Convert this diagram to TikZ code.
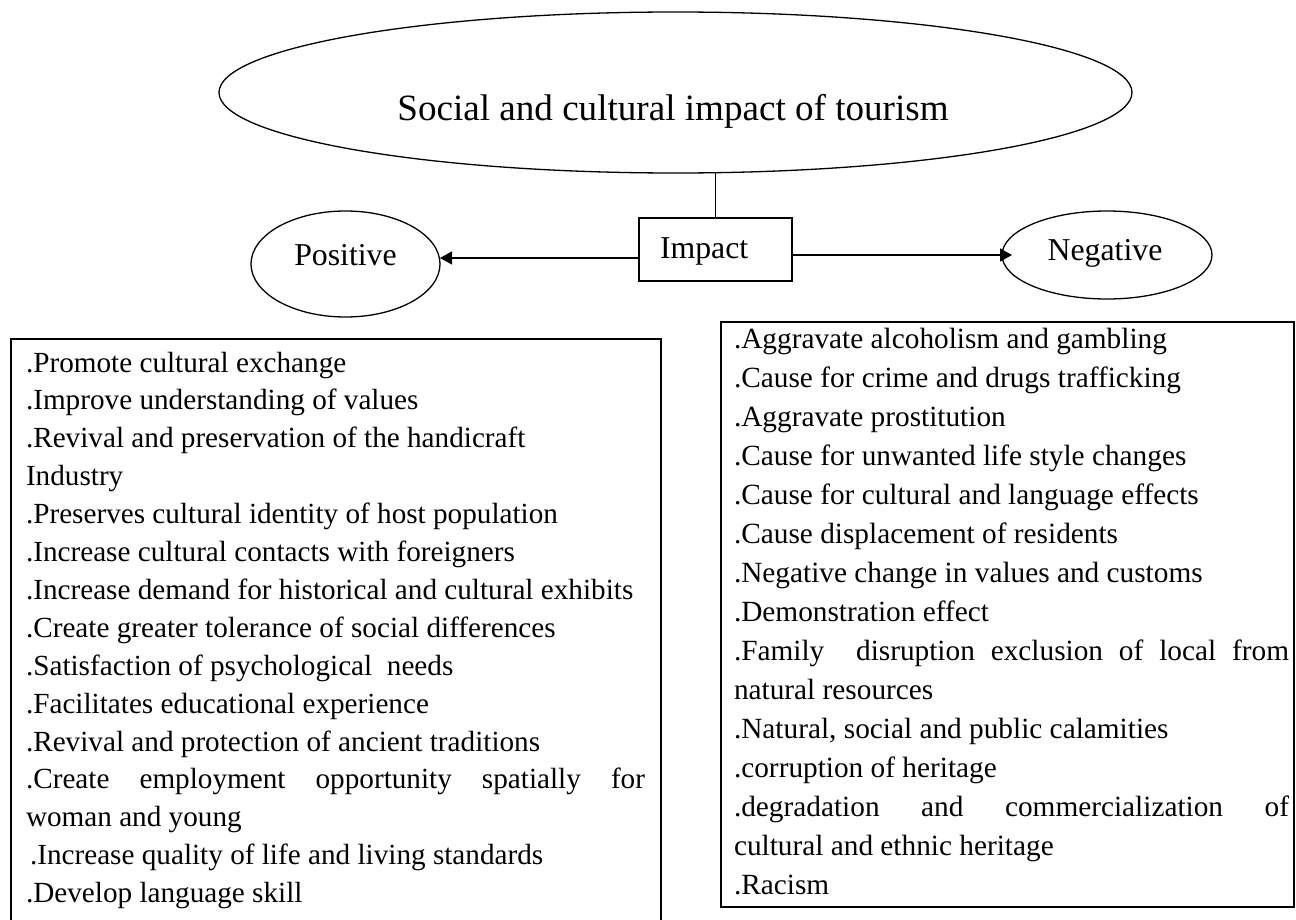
\documentclass[tikz,border=0pt]{standalone}
\usepackage{fontspec}
\setmainfont{Liberation Serif}
\usetikzlibrary{shapes.geometric,arrows.meta}
\newcommand\jline[2]{{\spaceskip=0pt\xspaceskip=0pt\makebox[#1][s]{#2}}}
\newcommand\natsp{\spaceskip=0pt\xspaceskip=0pt\relax}
\begin{document}
\begin{tikzpicture}[x=0.5pt,y=-0.5pt,
  every node/.style={inner sep=0pt, outer sep=0pt},
  oval/.style={draw, ellipse, line width=0.65pt},
  rectbox/.style={draw, rectangle, line width=0.65pt},
  lbl/.style={anchor=base, font=\fontsize{15.9}{19}\selectfont},
  titlelbl/.style={anchor=base, font=\fontsize{18.55}{22}\selectfont},
  arr/.style={-{Triangle[length=6pt,width=6.5pt]}, line width=0.65pt},
  link/.style={line width=0.65pt},
  listbox/.style={line width=1pt},
  listL/.style={anchor=north west, text width=309.5pt, align=left, font=\fontsize{14.6}{18.95}\selectfont},
  listR/.style={anchor=north west, text width=277.5pt, align=left, font=\fontsize{14.65}{19.5}\selectfont}
]
\clip (0,0) rectangle (1296,920);
\fill[white] (0,0) rectangle (1296,920);

% top ellipse
\node[oval, minimum width=456.5pt, minimum height=80.5pt] (top) at (675.5,92.5) {};
\node[titlelbl] (ttl) at (673,121) {Social and cultural impact of tourism};

% impact box
\node[rectbox, minimum width=76.5pt, minimum height=31.5pt] (imp) at (715.5,249.5) {};
\node[lbl, anchor=base west] (impt) at (660,258) {Impact};

% positive / negative
\node[oval, minimum width=94.5pt, minimum height=53pt] (pos) at (345.5,264) {};
\node[lbl] (post) at (345.5,265) {Positive};
\node[oval, minimum width=105pt, minimum height=44pt] (neg) at (1107,255) {};
\node[lbl] (negt) at (1105,260) {Negative};

% connectors
\draw[link] (imp.north) -- (imp.north |- top.south);
\coordinate (la) at ([yshift=-4.25pt]imp.west);
\draw[arr] (la) -- (la -| pos.east);
\coordinate (ra) at ([yshift=-2.75pt]imp.east);
\draw[arr, shorten >=-5pt] (ra) -- (ra -| neg.west);

% list boxes
\draw[listbox] (11,339) rectangle (661,940);
\draw[listbox] (721,322) rectangle (1294,907);

\node[listL] (plist) at (26,345.5) {\natsp\strut .Promote cultural exchange\\
.Improve understanding of values\\
.Revival and preservation of the handicraft\\
Industry\\
.Preserves cultural identity of host population\\
.Increase cultural contacts with foreigners\\
.Increase demand for historical and cultural exhibits\\
.Create greater tolerance of social differences\\
.Satisfaction of psychological\ \ needs\\
.Facilitates educational experience\\
.Revival and protection of ancient traditions\\
\jline{309.5pt}{.Create employment opportunity spatially for}\\
woman and young\\
\hspace*{2pt}.Increase quality of life and living standards\\
.Develop language skill};

\node[listR] (nlist) at (734,320.7) {\natsp\strut .Aggravate alcoholism and gambling\\
.Cause for crime and drugs trafficking\\
.Aggravate prostitution\\
.Cause for unwanted life style changes\\
.Cause for cultural and language effects\\
.Cause displacement of residents\\
.Negative change in values and customs\\
.Demonstration effect\\
\jline{277.5pt}{.Family\ \ disruption exclusion of local from}\\
natural resources\\
.Natural, social and public calamities\\
.corruption of heritage\\
\jline{277.5pt}{.degradation and commercialization of}\\
cultural and ethnic heritage\\
.Racism};
\end{tikzpicture}
\end{document}
